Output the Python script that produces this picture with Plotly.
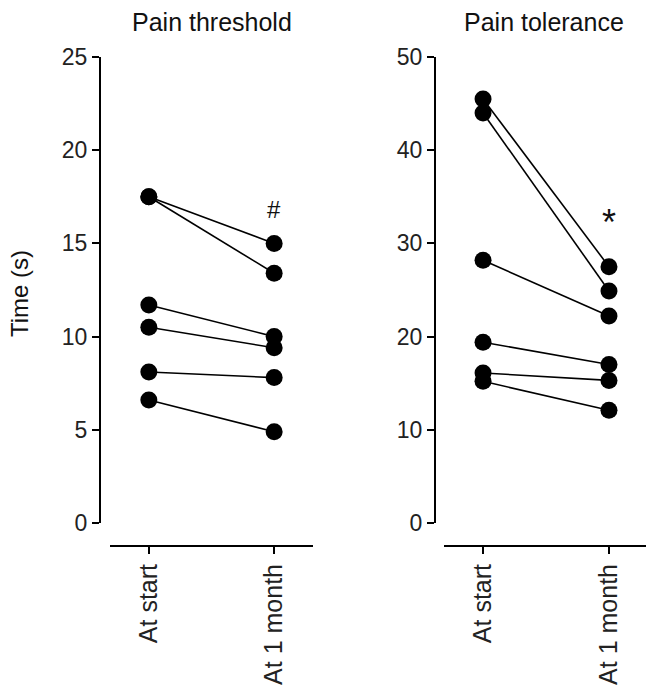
import plotly.graph_objects as go

# ---- data ----
times = ["At start", "At 1 month"]
threshold_start = [17.5, 17.5, 11.7, 10.5, 8.1, 6.6]
threshold_month = [15.0, 13.4, 10.0, 9.4, 7.8, 4.9]
tolerance_start = [45.5, 44.0, 28.2, 19.4, 16.1, 15.2]
tolerance_month = [27.5, 24.9, 22.2, 17.0, 15.3, 12.1]
panel_titles = ["Pain threshold", "Pain tolerance"]
y_label = "Time (s)"
sig_marks = ["#", "*"]
sig_values = [16.8, 32.2]

W, H = 646, 688
FONT = "Liberation Sans, Arial, sans-serif"

def px_x(p):
    return p / W

def px_y(p):
    return 1 - p / H

fig = go.Figure()

for s, m in zip(threshold_start, threshold_month):
    fig.add_trace(go.Scatter(x=times, y=[s, m], mode="lines+markers",
                             line=dict(color="black", width=1.6),
                             marker=dict(size=17, color="black"),
                             xaxis="x", yaxis="y", showlegend=False))
for s, m in zip(tolerance_start, tolerance_month):
    fig.add_trace(go.Scatter(x=times, y=[s, m], mode="lines+markers",
                             line=dict(color="black", width=1.6),
                             marker=dict(size=17, color="black"),
                             xaxis="x2", yaxis="y2", showlegend=False))

common_x = dict(type="category", showline=True, linecolor="black", linewidth=2,
                ticks="outside", ticklen=7, tickwidth=1.5, tickcolor="black",
                tickangle=-90, showgrid=False, zeroline=False, automargin=False,
                tickfont=dict(family=FONT, size=25, color="#222"), anchor="free",
                position=px_y(546))
common_y = dict(showline=True, linecolor="black", linewidth=2,
                ticks="outside", ticklen=7, tickwidth=1.5, tickcolor="black",
                showgrid=False, zeroline=False, automargin=False,
                tickfont=dict(family=FONT, size=23, color="#222"), anchor="free",
                domain=[px_y(523), px_y(57)])

fig.update_layout(
    width=W, height=H, margin=dict(l=0, r=0, t=0, b=0), autosize=False,
    template="none", paper_bgcolor="white", plot_bgcolor="white",
    xaxis=dict(common_x, domain=[px_x(110), px_x(313)], range=[-0.31, 1.31]),
    yaxis=dict(common_y, range=[0, 25], dtick=5, position=px_x(100)),
    xaxis2=dict(common_x, domain=[px_x(444), 1.0], range=[-0.31, 1.294]),
    yaxis2=dict(common_y, range=[0, 50], dtick=10, position=px_x(435)),
)

annotations = [
    dict(text=panel_titles[0], x=px_x(212), y=px_y(22), xref="paper", yref="paper",
         xanchor="center", yanchor="middle",
         showarrow=False, font=dict(family=FONT, size=25, color="#111")),
    dict(text=panel_titles[1], x=px_x(544), y=px_y(22), xref="paper", yref="paper",
         xanchor="center", yanchor="middle",
         showarrow=False, font=dict(family=FONT, size=25, color="#111")),
    dict(text=y_label, x=px_x(19), y=px_y(294), xref="paper", yref="paper",
         xanchor="center", yanchor="middle",
         textangle=-90, showarrow=False, font=dict(family=FONT, size=24, color="#111")),
    dict(text=sig_marks[0], x=times[1], y=sig_values[0], xref="x", yref="y",
         xanchor="center", yanchor="middle",
         showarrow=False, font=dict(family=FONT, size=24, color="#111")),
    dict(text=sig_marks[1], x=times[1], y=sig_values[1], xref="x2", yref="y2",
         xanchor="center", yanchor="middle",
         showarrow=False, font=dict(family=FONT, size=36, color="#111")),
]
fig.update_layout(annotations=annotations)

fig.write_html("out.html")
